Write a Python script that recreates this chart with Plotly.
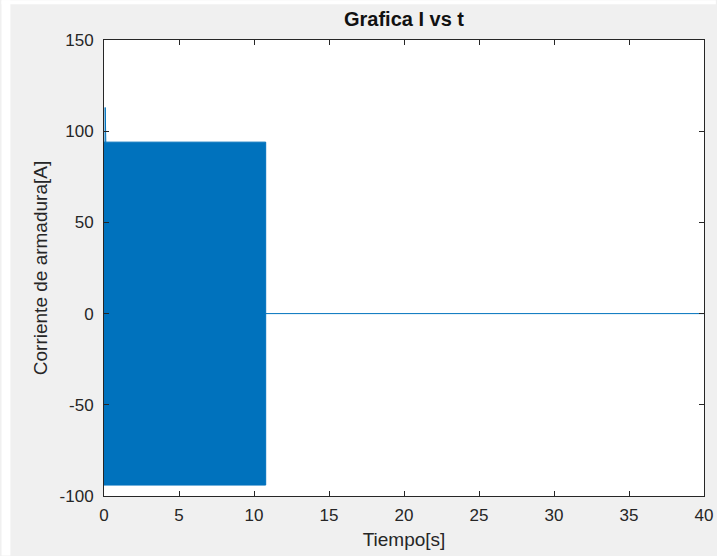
import plotly.graph_objects as go

# Data
# Oscillating armature current region (dense oscillation appears as a filled band)
band_t = [0.0, 10.78]
band_upper = [94.0, 94.0]
band_lower = [-94.0, -94.0]

# Initial spike at start
spike_t = [0.0, 0.08, 0.12]
spike_i = [0.0, 113.0, 94.0]

# Steady state after the oscillation ends
tail_t = [10.78, 40.0]
tail_i = [0.0, 0.0]

x_ticks = [0, 5, 10, 15, 20, 25, 30, 35, 40]
y_ticks = [-100, -50, 0, 50, 100, 150]
y_tick_text = ["-100", "-50", "0", "50", "100", "150"]

blue = "#0072BD"
axis_color = "#262626"
font_family = "Liberation Sans, Arial, Helvetica, sans-serif"

W, H = 725, 559
ML, MR, MT, MB = 104, 12, 40, 60
PW, PH = W - ML - MR, H - MT - MB

fig = go.Figure()

fig.add_trace(go.Scatter(x=spike_t, y=spike_i, mode="lines",
                         line=dict(color=blue, width=1), showlegend=False,
                         hoverinfo="skip"))
fig.add_trace(go.Scatter(x=tail_t, y=tail_i, mode="lines",
                         line=dict(color=blue, width=1), showlegend=False,
                         hoverinfo="skip"))

poly_t = band_t + band_t[::-1] + [band_t[0]]
poly_i = band_upper + band_lower[::-1] + [band_upper[0]]
fig.add_trace(go.Scatter(x=poly_t, y=poly_i, mode="lines", fill="toself",
                         fillcolor=blue, line=dict(color=blue, width=1),
                         showlegend=False, hoverinfo="skip"))

fig.update_layout(
    width=W, height=H,
    autosize=False,
    margin=dict(l=ML, r=MR, t=MT, b=MB),
    paper_bgcolor="#f0f0f0",
    plot_bgcolor="white",
    font=dict(family=font_family, color=axis_color, size=17),
    title=dict(text="<b>Grafica I vs t</b>", x=0.5, xref="paper",
               y=1 - 19 / H, yanchor="middle",
               font=dict(size=20, color="#111111", family=font_family)),
    xaxis=dict(range=[0, 40], tickvals=x_ticks, ticks="inside", ticklen=5,
               tickcolor=axis_color, showline=True, linecolor=axis_color,
               linewidth=1, mirror="ticks", showgrid=False, zeroline=False,
               ticklabelstandoff=4,
               title=dict(text="Tiempo[s]", standoff=8,
                          font=dict(size=19, color=axis_color)),
               tickfont=dict(size=17, color=axis_color)),
    yaxis=dict(range=[-100, 150], tickvals=y_ticks, ticktext=y_tick_text,
               ticks="inside", ticklen=5,
               tickcolor=axis_color, showline=True, linecolor=axis_color,
               linewidth=1, mirror="ticks", showgrid=False, zeroline=False,
               ticklabelstandoff=6,
               title=dict(text="Corriente de armadura[A]", standoff=6,
                          font=dict(size=19, color=axis_color)),
               tickfont=dict(size=17, color=axis_color)),
    shapes=[
        dict(type="rect", xref="paper", yref="paper",
             x0=-ML / PW, x1=(9 - ML) / PW, y0=-MB / PH, y1=(PH + MT) / PH,
             fillcolor="white", line=dict(width=0), layer="below"),
        dict(type="rect", xref="paper", yref="paper",
             x0=-ML / PW, x1=(W - ML) / PW, y0=(PH + MT - 4) / PH,
             y1=(PH + MT) / PH,
             fillcolor="white", line=dict(width=0), layer="below"),
    ],
)

fig.write_html("out.html", config={"responsive": False})
